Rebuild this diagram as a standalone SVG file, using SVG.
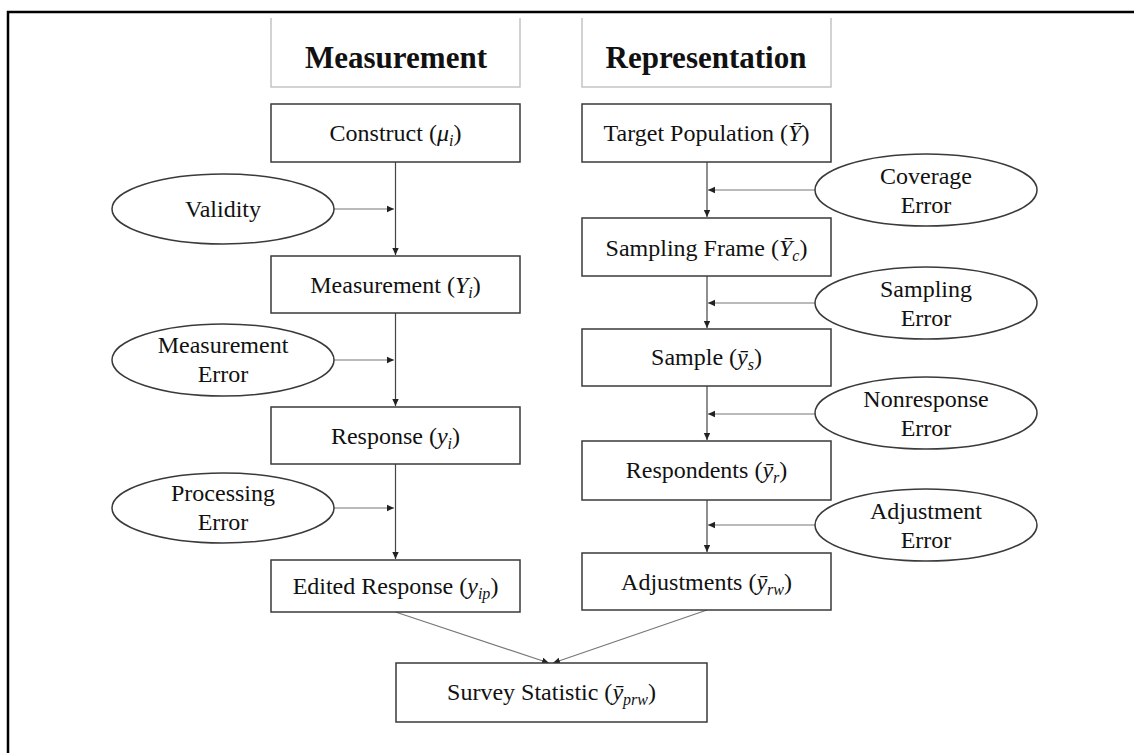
<svg xmlns="http://www.w3.org/2000/svg" width="1134" height="753" viewBox="0 0 1134 753">
<style>
.t{font-family:"Liberation Serif","Times New Roman",serif;font-size:24px;fill:#111;text-anchor:middle}
.h{font-family:"Liberation Serif","Times New Roman",serif;font-size:31px;font-weight:bold;fill:#111;text-anchor:middle}
.i{font-style:italic}
.s{font-style:italic;font-size:16px}
.box{fill:#fff;stroke:#3a3a3a;stroke-width:1.5}
.ell{fill:#fff;stroke:#3a3a3a;stroke-width:1.5}
.hdr{fill:none;stroke:#c4c4c4;stroke-width:1.5}
.v{stroke:#444;stroke-width:1.2;fill:none}
.hz{stroke:#777;stroke-width:1.2;fill:none}
</style>
<defs>
<marker id="ah" markerWidth="8" markerHeight="8" refX="7" refY="4" orient="auto" markerUnits="userSpaceOnUse">
<path d="M0,0.8 L7,4 L0,7.2 Z" fill="#222"/>
</marker>
</defs>
<rect width="1134" height="753" fill="#fff"/>
<path d="M8,753 V12 H1134" fill="none" stroke="#000" stroke-width="2.5"/>

<g id="hdr-measurement">
<path class="hdr" d="M271,18 V87 H520 V18"/>
<text class="h" x="396" y="68">Measurement</text>
</g>
<g id="hdr-representation">
<path class="hdr" d="M582,18 V87 H831 V18"/>
<text class="h" x="706" y="68">Representation</text>
</g>

<g id="connectors">
<line class="v" x1="395.5" y1="162" x2="395.5" y2="255" marker-end="url(#ah)"/>
<line class="v" x1="395.5" y1="313" x2="395.5" y2="406" marker-end="url(#ah)"/>
<line class="v" x1="395.5" y1="464" x2="395.5" y2="559" marker-end="url(#ah)"/>
<line class="hz" x1="334" y1="209" x2="394" y2="209" marker-end="url(#ah)"/>
<line class="hz" x1="334" y1="360" x2="394" y2="360" marker-end="url(#ah)"/>
<line class="hz" x1="334" y1="508" x2="394" y2="508" marker-end="url(#ah)"/>
<line class="v" x1="707" y1="162" x2="707" y2="217" marker-end="url(#ah)"/>
<line class="v" x1="707" y1="276" x2="707" y2="328" marker-end="url(#ah)"/>
<line class="v" x1="707" y1="386" x2="707" y2="440" marker-end="url(#ah)"/>
<line class="v" x1="707" y1="500" x2="707" y2="552" marker-end="url(#ah)"/>
<line class="hz" x1="815" y1="190" x2="708" y2="190" marker-end="url(#ah)"/>
<line class="hz" x1="815" y1="303" x2="708" y2="303" marker-end="url(#ah)"/>
<line class="hz" x1="815" y1="414" x2="708" y2="414" marker-end="url(#ah)"/>
<line class="hz" x1="815" y1="525" x2="708" y2="525" marker-end="url(#ah)"/>
<line class="hz" x1="395.5" y1="612" x2="549" y2="663" marker-end="url(#ah)"/>
<line class="hz" x1="707" y1="610" x2="553" y2="663" marker-end="url(#ah)"/>
</g>

<g id="construct">
<rect class="box" x="271" y="104" width="249" height="58"/>
<text class="t" x="395.5" y="141">Construct (<tspan class="i">μ</tspan><tspan class="s" dy="5">i</tspan><tspan dy="-5">)</tspan></text>
</g>
<g id="measurement">
<rect class="box" x="271" y="256" width="249" height="57"/>
<text class="t" x="395.5" y="293">Measurement (<tspan class="i">Y</tspan><tspan class="s" dy="5">i</tspan><tspan dy="-5">)</tspan></text>
</g>
<g id="response">
<rect class="box" x="271" y="407" width="249" height="57"/>
<text class="t" x="395.5" y="444">Response (<tspan class="i">y</tspan><tspan class="s" dy="5">i</tspan><tspan dy="-5">)</tspan></text>
</g>
<g id="edited-response">
<rect class="box" x="271" y="560" width="249" height="52"/>
<text class="t" x="395.5" y="594">Edited Response (<tspan class="i">y</tspan><tspan class="s" dy="5">ip</tspan><tspan dy="-5">)</tspan></text>
</g>

<g id="validity">
<ellipse class="ell" cx="223" cy="209" rx="111" ry="35"/>
<text class="t" x="223" y="217">Validity</text>
</g>
<g id="measurement-error">
<ellipse class="ell" cx="223" cy="360" rx="111" ry="36"/>
<text class="t" x="223" y="353">Measurement</text>
<text class="t" x="223" y="382">Error</text>
</g>
<g id="processing-error">
<ellipse class="ell" cx="223" cy="508" rx="111" ry="35"/>
<text class="t" x="223" y="501">Processing</text>
<text class="t" x="223" y="530">Error</text>
</g>

<g id="target-population">
<rect class="box" x="582" y="104" width="249" height="58"/>
<text class="t" x="706.5" y="141">Target Population (<tspan class="i">Ȳ</tspan>)</text>
</g>
<g id="sampling-frame">
<rect class="box" x="582" y="218" width="249" height="58"/>
<text class="t" x="706.5" y="256">Sampling Frame (<tspan class="i">Ȳ</tspan><tspan class="s" dy="5">c</tspan><tspan dy="-5">)</tspan></text>
</g>
<g id="sample">
<rect class="box" x="582" y="329" width="249" height="57"/>
<text class="t" x="706.5" y="365">Sample (<tspan class="i">ȳ</tspan><tspan class="s" dy="5">s</tspan><tspan dy="-5">)</tspan></text>
</g>
<g id="respondents">
<rect class="box" x="582" y="441" width="249" height="59"/>
<text class="t" x="706.5" y="478">Respondents (<tspan class="i">ȳ</tspan><tspan class="s" dy="5">r</tspan><tspan dy="-5">)</tspan></text>
</g>
<g id="adjustments">
<rect class="box" x="582" y="553" width="249" height="57"/>
<text class="t" x="706.5" y="590">Adjustments (<tspan class="i">ȳ</tspan><tspan class="s" dy="5">rw</tspan><tspan dy="-5">)</tspan></text>
</g>

<g id="coverage-error">
<ellipse class="ell" cx="926" cy="190" rx="111" ry="36"/>
<text class="t" x="926" y="184">Coverage</text>
<text class="t" x="926" y="213">Error</text>
</g>
<g id="sampling-error">
<ellipse class="ell" cx="926" cy="303" rx="111" ry="36"/>
<text class="t" x="926" y="297">Sampling</text>
<text class="t" x="926" y="326">Error</text>
</g>
<g id="nonresponse-error">
<ellipse class="ell" cx="926" cy="413" rx="111" ry="36"/>
<text class="t" x="926" y="407">Nonresponse</text>
<text class="t" x="926" y="436">Error</text>
</g>
<g id="adjustment-error">
<ellipse class="ell" cx="926" cy="525" rx="111" ry="36"/>
<text class="t" x="926" y="519">Adjustment</text>
<text class="t" x="926" y="548">Error</text>
</g>

<g id="survey-statistic">
<rect class="box" x="396" y="663" width="311" height="59"/>
<text class="t" x="551.5" y="700">Survey Statistic (<tspan class="i">ȳ</tspan><tspan class="s" dy="5">prw</tspan><tspan dy="-5">)</tspan></text>
</g>
</svg>
